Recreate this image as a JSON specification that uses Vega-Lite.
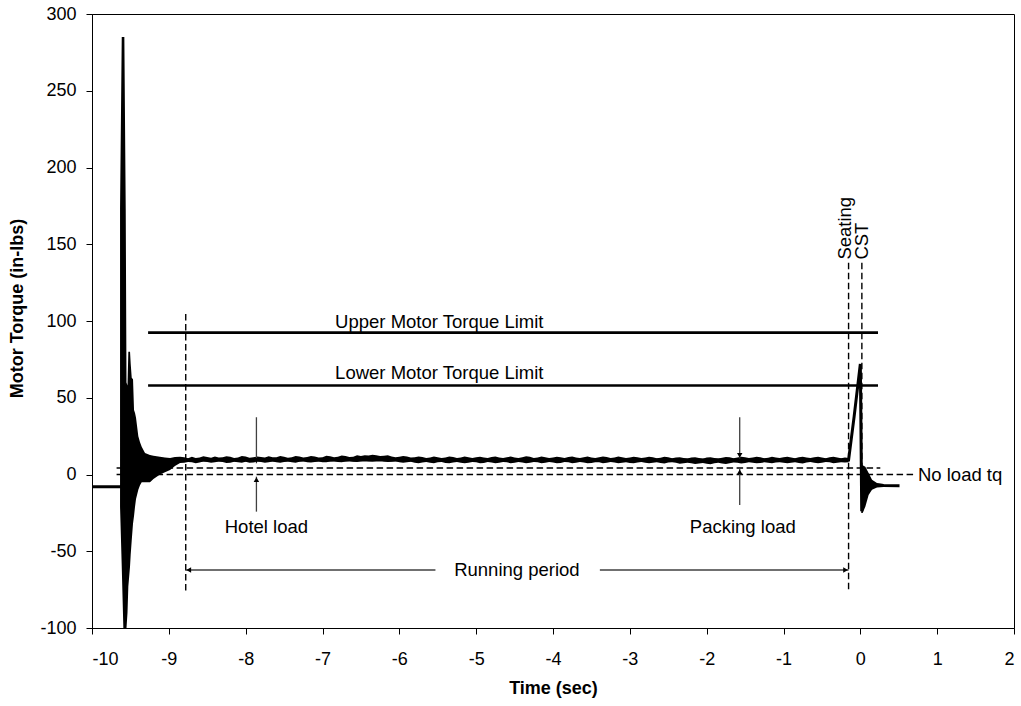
{
  "$schema": "https://vega.github.io/schema/vega-lite/v6.json",
  "width": 922,
  "height": 614,
  "autosize": {"type": "none"},
  "padding": {"left": 92, "top": 14, "right": 7, "bottom": 78},
  "background": "white",
  "config": {
    "view": {"stroke": "black", "strokeWidth": 1},
    "font": "Liberation Sans",
    "axis": {
      "domainColor": "black",
      "tickColor": "black",
      "tickSize": 6,
      "grid": false,
      "labelFont": "Liberation Sans",
      "labelFontSize": 18,
      "labelColor": "black",
      "titleFont": "Liberation Sans",
      "titleFontSize": 18,
      "titleFontWeight": "bold",
      "titleColor": "black"
    }
  },
  "datasets": {
    "envelope": [
      {"seg": 1, "t": -9.635, "hi": 173, "lo": -21},
      {"seg": 1, "t": -9.613, "hi": 285, "lo": -60},
      {"seg": 1, "t": -9.592, "hi": 285, "lo": -100},
      {"seg": 1, "t": -9.579, "hi": 285, "lo": -100},
      {"seg": 1, "t": -9.561, "hi": 173, "lo": -100},
      {"seg": 1, "t": -9.551, "hi": 60, "lo": -100},
      {"seg": 1, "t": -9.538, "hi": 58, "lo": -90},
      {"seg": 1, "t": -9.527, "hi": 80, "lo": -73},
      {"seg": 1, "t": -9.505, "hi": 80, "lo": -60},
      {"seg": 1, "t": -9.496, "hi": 72, "lo": -52},
      {"seg": 1, "t": -9.483, "hi": 63, "lo": -43},
      {"seg": 1, "t": -9.466, "hi": 62, "lo": -32},
      {"seg": 1, "t": -9.453, "hi": 42, "lo": -27},
      {"seg": 1, "t": -9.44, "hi": 40, "lo": -21},
      {"seg": 1, "t": -9.427, "hi": 37, "lo": -16},
      {"seg": 1, "t": -9.397, "hi": 25, "lo": -10},
      {"seg": 1, "t": -9.375, "hi": 21, "lo": -7},
      {"seg": 1, "t": -9.353, "hi": 18, "lo": -5},
      {"seg": 1, "t": -9.31, "hi": 14, "lo": -5},
      {"seg": 1, "t": -9.245, "hi": 12.7, "lo": -5},
      {"seg": 1, "t": -9.2, "hi": 12.2, "lo": -3},
      {"seg": 1, "t": -9.115, "hi": 11.6, "lo": 0},
      {"seg": 1, "t": -9.05, "hi": 11.0, "lo": 1.5},
      {"seg": 1, "t": -8.984, "hi": 10.7, "lo": 3},
      {"seg": 1, "t": -8.92, "hi": 11.4, "lo": 5.5},
      {"seg": 1, "t": -8.854, "hi": 11.6, "lo": 7.5},
      {"seg": 1, "t": -8.8, "hi": 11.2, "lo": 7.6},
      {"seg": 1, "t": -8.75, "hi": 10.6, "lo": 8.2},
      {"seg": 1, "t": -8.7, "hi": 11.6, "lo": 8.0},
      {"seg": 1, "t": -8.65, "hi": 10.8, "lo": 7.4},
      {"seg": 1, "t": -8.6, "hi": 11.0, "lo": 7.8},
      {"seg": 1, "t": -8.55, "hi": 11.9, "lo": 8.4},
      {"seg": 1, "t": -8.5, "hi": 11.4, "lo": 8.2},
      {"seg": 1, "t": -8.45, "hi": 10.9, "lo": 7.6},
      {"seg": 1, "t": -8.4, "hi": 11.8, "lo": 7.9},
      {"seg": 1, "t": -8.35, "hi": 11.0, "lo": 8.5},
      {"seg": 1, "t": -8.3, "hi": 11.3, "lo": 8.1},
      {"seg": 1, "t": -8.25, "hi": 11.9, "lo": 7.5},
      {"seg": 1, "t": -8.2, "hi": 11.5, "lo": 7.7},
      {"seg": 1, "t": -8.15, "hi": 10.8, "lo": 8.3},
      {"seg": 1, "t": -8.1, "hi": 11.1, "lo": 8.0},
      {"seg": 1, "t": -8.05, "hi": 12.0, "lo": 7.6},
      {"seg": 1, "t": -8.0, "hi": 11.7, "lo": 8.3},
      {"seg": 1, "t": -7.95, "hi": 10.9, "lo": 7.7},
      {"seg": 1, "t": -7.9, "hi": 11.2, "lo": 7.8},
      {"seg": 1, "t": -7.85, "hi": 11.8, "lo": 8.4},
      {"seg": 1, "t": -7.8, "hi": 11.4, "lo": 8.1},
      {"seg": 1, "t": -7.75, "hi": 11.0, "lo": 7.6},
      {"seg": 1, "t": -7.7, "hi": 11.9, "lo": 8.0},
      {"seg": 1, "t": -7.65, "hi": 11.2, "lo": 8.5},
      {"seg": 1, "t": -7.6, "hi": 11.3, "lo": 7.9},
      {"seg": 1, "t": -7.55, "hi": 12.0, "lo": 7.6},
      {"seg": 1, "t": -7.5, "hi": 11.6, "lo": 8.2},
      {"seg": 1, "t": -7.45, "hi": 10.9, "lo": 8.4},
      {"seg": 1, "t": -7.4, "hi": 11.2, "lo": 8.0},
      {"seg": 1, "t": -7.35, "hi": 12.1, "lo": 7.7},
      {"seg": 1, "t": -7.3, "hi": 11.8, "lo": 8.3},
      {"seg": 1, "t": -7.25, "hi": 11.1, "lo": 8.6},
      {"seg": 1, "t": -7.2, "hi": 11.4, "lo": 7.9},
      {"seg": 1, "t": -7.15, "hi": 12.0, "lo": 7.8},
      {"seg": 1, "t": -7.1, "hi": 11.7, "lo": 8.2},
      {"seg": 1, "t": -7.05, "hi": 11.0, "lo": 8.5},
      {"seg": 1, "t": -7.0, "hi": 11.3, "lo": 8.0},
      {"seg": 1, "t": -6.95, "hi": 12.2, "lo": 7.9},
      {"seg": 1, "t": -6.9, "hi": 11.9, "lo": 8.4},
      {"seg": 1, "t": -6.85, "hi": 11.3, "lo": 8.7},
      {"seg": 1, "t": -6.8, "hi": 11.5, "lo": 8.1},
      {"seg": 1, "t": -6.75, "hi": 12.3, "lo": 8.0},
      {"seg": 1, "t": -6.7, "hi": 12.0, "lo": 8.4},
      {"seg": 1, "t": -6.65, "hi": 11.4, "lo": 8.8},
      {"seg": 1, "t": -6.6, "hi": 11.6, "lo": 8.3},
      {"seg": 1, "t": -6.55, "hi": 12.5, "lo": 8.2},
      {"seg": 1, "t": -6.5, "hi": 12.1, "lo": 8.6},
      {"seg": 1, "t": -6.45, "hi": 12.6, "lo": 9.0},
      {"seg": 1, "t": -6.4, "hi": 12.3, "lo": 8.7},
      {"seg": 1, "t": -6.35, "hi": 12.9, "lo": 8.5},
      {"seg": 1, "t": -6.3, "hi": 12.5, "lo": 8.8},
      {"seg": 1, "t": -6.25, "hi": 12.0, "lo": 9.1},
      {"seg": 1, "t": -6.2, "hi": 12.2, "lo": 8.5},
      {"seg": 1, "t": -6.15, "hi": 12.6, "lo": 8.2},
      {"seg": 1, "t": -6.1, "hi": 11.8, "lo": 8.3},
      {"seg": 1, "t": -6.05, "hi": 11.3, "lo": 8.6},
      {"seg": 1, "t": -6.0, "hi": 11.5, "lo": 8.0},
      {"seg": 1, "t": -5.95, "hi": 12.1, "lo": 7.7},
      {"seg": 1, "t": -5.9, "hi": 11.7, "lo": 7.9},
      {"seg": 1, "t": -5.85, "hi": 11.0, "lo": 8.3},
      {"seg": 1, "t": -5.8, "hi": 11.2, "lo": 7.7},
      {"seg": 1, "t": -5.75, "hi": 11.8, "lo": 7.4},
      {"seg": 1, "t": -5.7, "hi": 11.4, "lo": 7.8},
      {"seg": 1, "t": -5.65, "hi": 10.8, "lo": 8.1},
      {"seg": 1, "t": -5.6, "hi": 11.0, "lo": 7.6},
      {"seg": 1, "t": -5.55, "hi": 11.7, "lo": 7.3},
      {"seg": 1, "t": -5.5, "hi": 11.3, "lo": 7.9},
      {"seg": 1, "t": -5.45, "hi": 10.7, "lo": 8.2},
      {"seg": 1, "t": -5.4, "hi": 11.1, "lo": 7.5},
      {"seg": 1, "t": -5.35, "hi": 11.8, "lo": 7.4},
      {"seg": 1, "t": -5.3, "hi": 11.4, "lo": 7.8},
      {"seg": 1, "t": -5.25, "hi": 10.8, "lo": 8.1},
      {"seg": 1, "t": -5.2, "hi": 11.0, "lo": 7.6},
      {"seg": 1, "t": -5.15, "hi": 11.7, "lo": 7.3},
      {"seg": 1, "t": -5.1, "hi": 11.3, "lo": 7.7},
      {"seg": 1, "t": -5.05, "hi": 10.8, "lo": 8.2},
      {"seg": 1, "t": -5.0, "hi": 11.2, "lo": 7.9},
      {"seg": 1, "t": -4.95, "hi": 11.6, "lo": 7.3},
      {"seg": 1, "t": -4.9, "hi": 11.0, "lo": 7.5},
      {"seg": 1, "t": -4.85, "hi": 10.7, "lo": 8.1},
      {"seg": 1, "t": -4.8, "hi": 11.4, "lo": 7.8},
      {"seg": 1, "t": -4.75, "hi": 11.8, "lo": 7.4},
      {"seg": 1, "t": -4.7, "hi": 11.1, "lo": 7.6},
      {"seg": 1, "t": -4.65, "hi": 10.7, "lo": 8.2},
      {"seg": 1, "t": -4.6, "hi": 11.3, "lo": 7.9},
      {"seg": 1, "t": -4.55, "hi": 11.7, "lo": 7.3},
      {"seg": 1, "t": -4.5, "hi": 11.0, "lo": 7.6},
      {"seg": 1, "t": -4.45, "hi": 10.8, "lo": 8.1},
      {"seg": 1, "t": -4.4, "hi": 11.2, "lo": 7.8},
      {"seg": 1, "t": -4.35, "hi": 11.9, "lo": 7.4},
      {"seg": 1, "t": -4.3, "hi": 11.5, "lo": 7.7},
      {"seg": 1, "t": -4.25, "hi": 10.8, "lo": 8.2},
      {"seg": 1, "t": -4.2, "hi": 11.1, "lo": 7.9},
      {"seg": 1, "t": -4.15, "hi": 11.7, "lo": 7.4},
      {"seg": 1, "t": -4.1, "hi": 11.3, "lo": 7.6},
      {"seg": 1, "t": -4.05, "hi": 10.7, "lo": 8.1},
      {"seg": 1, "t": -4.0, "hi": 11.0, "lo": 7.8},
      {"seg": 1, "t": -3.95, "hi": 11.6, "lo": 7.3},
      {"seg": 1, "t": -3.9, "hi": 11.2, "lo": 7.5},
      {"seg": 1, "t": -3.85, "hi": 10.8, "lo": 8.1},
      {"seg": 1, "t": -3.8, "hi": 11.4, "lo": 7.9},
      {"seg": 1, "t": -3.75, "hi": 11.8, "lo": 7.4},
      {"seg": 1, "t": -3.7, "hi": 11.1, "lo": 7.7},
      {"seg": 1, "t": -3.65, "hi": 10.7, "lo": 8.2},
      {"seg": 1, "t": -3.6, "hi": 11.3, "lo": 7.8},
      {"seg": 1, "t": -3.55, "hi": 11.7, "lo": 7.3},
      {"seg": 1, "t": -3.5, "hi": 11.0, "lo": 7.5},
      {"seg": 1, "t": -3.45, "hi": 10.8, "lo": 8.0},
      {"seg": 1, "t": -3.4, "hi": 11.2, "lo": 7.9},
      {"seg": 1, "t": -3.35, "hi": 11.8, "lo": 7.4},
      {"seg": 1, "t": -3.3, "hi": 11.4, "lo": 7.6},
      {"seg": 1, "t": -3.25, "hi": 10.7, "lo": 8.1},
      {"seg": 1, "t": -3.2, "hi": 11.1, "lo": 7.8},
      {"seg": 1, "t": -3.15, "hi": 11.7, "lo": 7.4},
      {"seg": 1, "t": -3.1, "hi": 11.3, "lo": 7.7},
      {"seg": 1, "t": -3.05, "hi": 10.7, "lo": 8.0},
      {"seg": 1, "t": -3.0, "hi": 11.0, "lo": 7.5},
      {"seg": 1, "t": -2.95, "hi": 11.6, "lo": 7.3},
      {"seg": 1, "t": -2.9, "hi": 11.2, "lo": 7.8},
      {"seg": 1, "t": -2.85, "hi": 10.7, "lo": 8.1},
      {"seg": 1, "t": -2.8, "hi": 11.1, "lo": 7.6},
      {"seg": 1, "t": -2.75, "hi": 11.6, "lo": 7.3},
      {"seg": 1, "t": -2.7, "hi": 11.3, "lo": 7.7},
      {"seg": 1, "t": -2.65, "hi": 10.6, "lo": 8.0},
      {"seg": 1, "t": -2.6, "hi": 10.9, "lo": 7.5},
      {"seg": 1, "t": -2.55, "hi": 11.5, "lo": 7.2},
      {"seg": 1, "t": -2.5, "hi": 11.2, "lo": 7.8},
      {"seg": 1, "t": -2.45, "hi": 10.6, "lo": 8.0},
      {"seg": 1, "t": -2.4, "hi": 11.0, "lo": 7.6},
      {"seg": 1, "t": -2.35, "hi": 11.3, "lo": 7.0},
      {"seg": 1, "t": -2.3, "hi": 10.8, "lo": 7.3},
      {"seg": 1, "t": -2.25, "hi": 10.4, "lo": 7.7},
      {"seg": 1, "t": -2.2, "hi": 11.1, "lo": 7.4},
      {"seg": 1, "t": -2.15, "hi": 11.2, "lo": 6.8},
      {"seg": 1, "t": -2.1, "hi": 10.7, "lo": 7.2},
      {"seg": 1, "t": -2.05, "hi": 10.3, "lo": 7.5},
      {"seg": 1, "t": -2.0, "hi": 11.0, "lo": 7.0},
      {"seg": 1, "t": -1.95, "hi": 11.2, "lo": 6.7},
      {"seg": 1, "t": -1.9, "hi": 10.8, "lo": 7.3},
      {"seg": 1, "t": -1.85, "hi": 10.4, "lo": 7.6},
      {"seg": 1, "t": -1.8, "hi": 10.9, "lo": 7.1},
      {"seg": 1, "t": -1.75, "hi": 11.4, "lo": 6.9},
      {"seg": 1, "t": -1.7, "hi": 11.2, "lo": 7.4},
      {"seg": 1, "t": -1.65, "hi": 10.6, "lo": 7.8},
      {"seg": 1, "t": -1.6, "hi": 11.0, "lo": 7.6},
      {"seg": 1, "t": -1.55, "hi": 11.6, "lo": 7.2},
      {"seg": 1, "t": -1.5, "hi": 11.3, "lo": 7.5},
      {"seg": 1, "t": -1.45, "hi": 10.7, "lo": 8.0},
      {"seg": 1, "t": -1.4, "hi": 11.0, "lo": 7.7},
      {"seg": 1, "t": -1.35, "hi": 11.5, "lo": 7.3},
      {"seg": 1, "t": -1.3, "hi": 11.2, "lo": 7.5},
      {"seg": 1, "t": -1.25, "hi": 10.6, "lo": 7.9},
      {"seg": 1, "t": -1.2, "hi": 10.9, "lo": 7.6},
      {"seg": 1, "t": -1.15, "hi": 11.5, "lo": 7.3},
      {"seg": 1, "t": -1.1, "hi": 11.1, "lo": 7.8},
      {"seg": 1, "t": -1.05, "hi": 10.7, "lo": 8.0},
      {"seg": 1, "t": -1.0, "hi": 11.3, "lo": 7.6},
      {"seg": 1, "t": -0.95, "hi": 11.6, "lo": 7.3},
      {"seg": 1, "t": -0.9, "hi": 11.0, "lo": 7.7},
      {"seg": 1, "t": -0.85, "hi": 10.6, "lo": 8.0},
      {"seg": 1, "t": -0.8, "hi": 11.2, "lo": 7.5},
      {"seg": 1, "t": -0.75, "hi": 11.5, "lo": 7.2},
      {"seg": 1, "t": -0.7, "hi": 11.1, "lo": 7.8},
      {"seg": 1, "t": -0.65, "hi": 10.7, "lo": 8.1},
      {"seg": 1, "t": -0.6, "hi": 11.3, "lo": 7.6},
      {"seg": 1, "t": -0.55, "hi": 11.6, "lo": 7.3},
      {"seg": 1, "t": -0.5, "hi": 11.0, "lo": 7.7},
      {"seg": 1, "t": -0.45, "hi": 10.6, "lo": 8.1},
      {"seg": 1, "t": -0.4, "hi": 11.2, "lo": 7.9},
      {"seg": 1, "t": -0.35, "hi": 11.5, "lo": 7.4},
      {"seg": 1, "t": -0.3, "hi": 11.1, "lo": 7.6},
      {"seg": 1, "t": -0.25, "hi": 10.6, "lo": 8.0},
      {"seg": 1, "t": -0.2, "hi": 11.0, "lo": 7.8},
      {"seg": 1, "t": -0.153, "hi": 10.7, "lo": 8.0},
      {"seg": 2, "t": 0.012, "hi": 6, "lo": -25},
      {"seg": 2, "t": 0.03, "hi": 6, "lo": -25},
      {"seg": 2, "t": 0.065, "hi": 5, "lo": -21},
      {"seg": 2, "t": 0.108, "hi": 1, "lo": -13.4},
      {"seg": 2, "t": 0.152, "hi": -3.5, "lo": -10},
      {"seg": 2, "t": 0.217, "hi": -5.5, "lo": -8.5},
      {"seg": 2, "t": 0.303, "hi": -6.2, "lo": -8.2}
    ],
    "signal": [
      {"t": -10, "v": -8},
      {"t": -9.635, "v": -8},
      {"t": -8.85, "v": 9.4},
      {"t": -0.153, "v": 9.4},
      {"t": -0.08, "v": 38},
      {"t": 0.0, "v": 72},
      {"t": 0.018, "v": -24},
      {"t": 0.06, "v": -8},
      {"t": 0.15, "v": -6.8},
      {"t": 0.3, "v": -7.2},
      {"t": 0.51, "v": -7.3}
    ],
    "limits": [
      {"name": "Upper Motor Torque Limit", "v": 92.4, "t0": -9.27, "t1": 0.23},
      {"name": "Lower Motor Torque Limit", "v": 58, "t0": -9.27, "t1": 0.23}
    ],
    "hdash": [
      {"v": 4.2, "t0": -9.68, "t1": 0.26},
      {"v": 0, "t0": -9.68, "t1": 0.69}
    ],
    "vdash": [
      {"t": -8.78, "v0": -76.3, "v1": 104.6},
      {"t": -0.153, "v0": -76.3, "v1": 138},
      {"t": 0.02, "v0": 0, "v1": 138}
    ],
    "shafts": [
      {"t0": -8.78, "t1": -5.53, "v0": -62.2, "v1": -62.2},
      {"t0": -3.39, "t1": -0.153, "v0": -62.2, "v1": -62.2},
      {"t0": -7.86, "t1": -7.86, "v0": 37.3, "v1": 7.3},
      {"t0": -7.86, "t1": -7.86, "v0": -24.2, "v1": -1.4},
      {"t0": -1.57, "t1": -1.57, "v0": 37.3, "v1": 10.5},
      {"t0": -1.57, "t1": -1.57, "v0": -19.9, "v1": 3.6}
    ],
    "heads": [
      {"t": -8.78, "v": -62.2, "dir": "triangle-left"},
      {"t": -0.153, "v": -62.2, "dir": "triangle-right"},
      {"t": -7.86, "v": 7.3, "dir": "triangle-down"},
      {"t": -7.86, "v": -1.4, "dir": "triangle-up"},
      {"t": -1.57, "v": 10.5, "dir": "triangle-down"},
      {"t": -1.57, "v": 3.6, "dir": "triangle-up"}
    ],
    "notes": [
      {"label": "Upper Motor Torque Limit", "t": -5.48, "v": 99.5},
      {"label": "Lower Motor Torque Limit", "t": -5.48, "v": 66},
      {"label": "Hotel load", "t": -7.73, "v": -34},
      {"label": "Packing load", "t": -1.53, "v": -34},
      {"label": "Running period", "t": -4.47, "v": -62.2}
    ],
    "rotated": [
      {"label": "Seating", "t": -0.195, "v": 140},
      {"label": "CST", "t": 0.026, "v": 140}
    ]
  },
  "layer": [
    {
      "data": {"name": "envelope"},
      "mark": {"type": "area", "color": "black", "interpolate": "linear"},
      "encoding": {
        "x": {
          "field": "t", "type": "quantitative",
          "scale": {"domain": [-10, 2], "nice": false},
          "axis": {
            "values": [-10, -9, -8, -7, -6, -5, -4, -3, -2, -1, 0, 1, 2],
            "labelExpr": "datum.value < 0 ? '-' + abs(datum.value) : '' + datum.value",
            "title": "Time (sec)", "labelPadding": 16, "titlePadding": 11
          }
        },
        "y": {
          "field": "hi", "type": "quantitative",
          "scale": {"domain": [-100, 300], "nice": false},
          "axis": {
            "values": [-100, -50, 0, 50, 100, 150, 200, 250, 300],
            "labelExpr": "datum.value < 0 ? '-' + abs(datum.value) : '' + datum.value",
            "title": "Motor Torque (in-lbs)", "labelPadding": 10,
            "titleAngle": -90, "titleX": -75, "titleY": 294, "titleBaseline": "middle", "titleAlign": "center"
          }
        },
        "y2": {"field": "lo"},
        "detail": {"field": "seg"}
      }
    },
    {
      "data": {"name": "signal"},
      "mark": {"type": "line", "color": "black", "strokeWidth": 3, "strokeJoin": "miter"},
      "encoding": {
        "x": {"field": "t", "type": "quantitative"},
        "y": {"field": "v", "type": "quantitative"}
      }
    },
    {
      "data": {"name": "limits"},
      "mark": {"type": "rule", "color": "black", "strokeWidth": 2.6},
      "encoding": {
        "x": {"field": "t0", "type": "quantitative"},
        "x2": {"field": "t1"},
        "y": {"field": "v", "type": "quantitative"}
      }
    },
    {
      "data": {"name": "hdash"},
      "mark": {"type": "rule", "color": "black", "strokeWidth": 1.4, "strokeDash": [6.5, 3.5]},
      "encoding": {
        "x": {"field": "t0", "type": "quantitative"},
        "x2": {"field": "t1"},
        "y": {"field": "v", "type": "quantitative"}
      }
    },
    {
      "data": {"name": "vdash"},
      "mark": {"type": "rule", "color": "black", "strokeWidth": 1.4, "strokeDash": [6.5, 3.5]},
      "encoding": {
        "x": {"field": "t", "type": "quantitative"},
        "y": {"field": "v1", "type": "quantitative"},
        "y2": {"field": "v0"}
      }
    },
    {
      "data": {"name": "shafts"},
      "mark": {"type": "rule", "color": "#404040", "strokeWidth": 1.3},
      "encoding": {
        "x": {"field": "t0", "type": "quantitative"},
        "x2": {"field": "t1"},
        "y": {"field": "v0", "type": "quantitative"},
        "y2": {"field": "v1"}
      }
    },
    {
      "data": {"name": "heads"},
      "transform": [{"filter": "datum.dir === 'triangle-left'"}],
      "mark": {"type": "point", "shape": "triangle-left", "filled": true, "color": "black", "size": 30, "opacity": 1, "xOffset": 3},
      "encoding": {
        "x": {"field": "t", "type": "quantitative"},
        "y": {"field": "v", "type": "quantitative"}
      }
    },
    {
      "data": {"name": "heads"},
      "transform": [{"filter": "datum.dir === 'triangle-right'"}],
      "mark": {"type": "point", "shape": "triangle-right", "filled": true, "color": "black", "size": 30, "opacity": 1, "xOffset": -3},
      "encoding": {
        "x": {"field": "t", "type": "quantitative"},
        "y": {"field": "v", "type": "quantitative"}
      }
    },
    {
      "data": {"name": "heads"},
      "transform": [{"filter": "datum.dir === 'triangle-down'"}],
      "mark": {"type": "point", "shape": "triangle-down", "filled": true, "color": "black", "size": 30, "opacity": 1, "yOffset": -3},
      "encoding": {
        "x": {"field": "t", "type": "quantitative"},
        "y": {"field": "v", "type": "quantitative"}
      }
    },
    {
      "data": {"name": "heads"},
      "transform": [{"filter": "datum.dir === 'triangle-up'"}],
      "mark": {"type": "point", "shape": "triangle-up", "filled": true, "color": "black", "size": 30, "opacity": 1, "yOffset": 3},
      "encoding": {
        "x": {"field": "t", "type": "quantitative"},
        "y": {"field": "v", "type": "quantitative"}
      }
    },
    {
      "data": {"name": "notes"},
      "mark": {"type": "text", "font": "Liberation Sans", "fontSize": 18.5, "color": "black", "align": "center", "baseline": "middle"},
      "encoding": {
        "x": {"field": "t", "type": "quantitative"},
        "y": {"field": "v", "type": "quantitative"},
        "text": {"field": "label"}
      }
    },
    {
      "data": {"name": "rotated"},
      "mark": {"type": "text", "font": "Liberation Sans", "fontSize": 18.5, "color": "black", "align": "left", "baseline": "middle", "angle": 270},
      "encoding": {
        "x": {"field": "t", "type": "quantitative"},
        "y": {"field": "v", "type": "quantitative"},
        "text": {"field": "label"}
      }
    },
    {
      "data": {"values": [{"label": "No load tq", "t": 0.75, "v": 0}]},
      "mark": {"type": "text", "font": "Liberation Sans", "fontSize": 18.5, "color": "black", "align": "left", "baseline": "middle"},
      "encoding": {
        "x": {"field": "t", "type": "quantitative"},
        "y": {"field": "v", "type": "quantitative"},
        "text": {"field": "label"}
      }
    }
  ]
}
